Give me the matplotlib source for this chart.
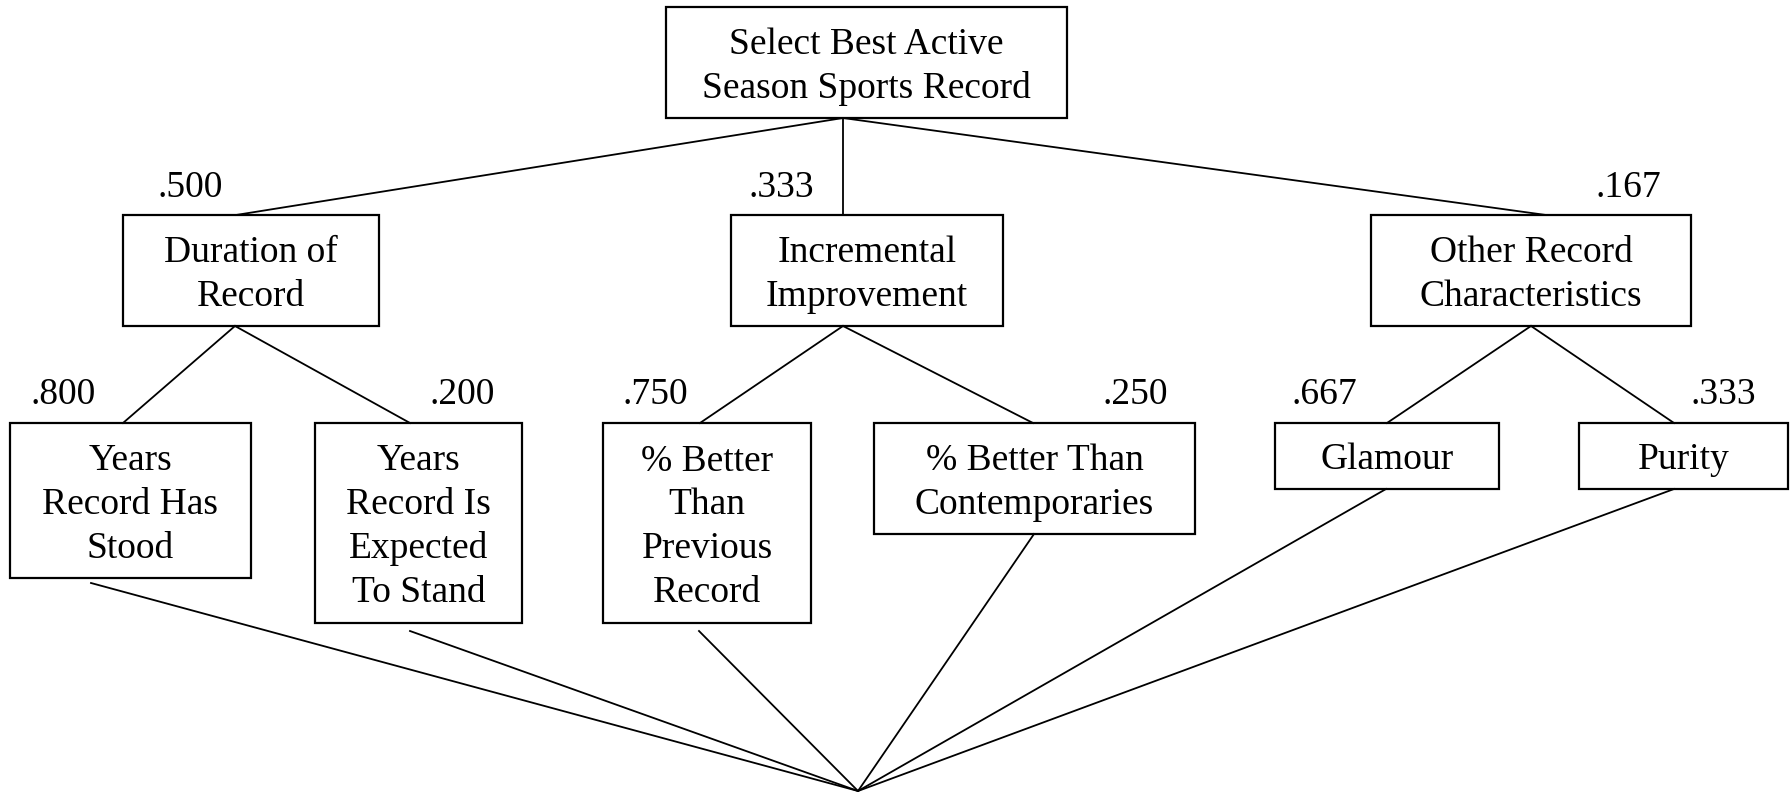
import matplotlib.pyplot as plt
from matplotlib.patches import Rectangle

# tree content
root_label = "Select Best Active\nSeason Sports Record"
criteria = ["Duration of\nRecord", "Incremental\nImprovement", "Other Record\nCharacteristics"]
criteria_weights = [".500", ".333", ".167"]
subcriteria = ["Years\nRecord Has\nStood", "Years\nRecord Is\nExpected\nTo Stand",
               "% Better\nThan\nPrevious\nRecord", "% Better Than\nContemporaries",
               "Glamour", "Purity"]
sub_weights = [".800", ".200", ".750", ".250", ".667", ".333"]
sub_parent = [0, 0, 1, 1, 2, 2]

# layout in pixels (x0, y0, x1, y1), y down
root_box = (666, 7, 1067, 118)
crit_boxes = [(123, 215, 379, 326), (731, 215, 1003, 326), (1371, 215, 1691, 326)]
sub_boxes = [(10, 423, 251, 578), (315, 423, 522, 623), (603, 423, 811, 623),
             (874, 423, 1195, 534), (1275, 423, 1499, 489), (1579, 423, 1788, 489)]
root_out = 843
crit_in = [236, 843, 1546]
crit_out = [235, 843, 1531]
sub_in = [123, 410, 700, 1033, 1387, 1674]
sub_out = [(91, 583), (410, 631), (699, 631), (1034, 534), (1386, 489), (1674, 489)]
sink = (858, 791)
crit_wpos = [(190, 188), (781, 188), (1628, 188)]
sub_wpos = [(63, 395), (462, 395), (655, 395), (1135, 395), (1324, 395), (1723, 395)]

plt.rcParams['font.family'] = ['Liberation Serif', 'DejaVu Serif']
FS = 27

fig = plt.figure(figsize=(17.92, 7.92), dpi=100)
ax = fig.add_axes([0, 0, 1, 1])
ax.set_xlim(0, 1792)
ax.set_ylim(792, 0)
ax.axis('off')


def box(b, label):
    x0, y0, x1, y1 = b
    ax.add_patch(Rectangle((x0, y0), x1 - x0, y1 - y0, fill=False, lw=1.6, ec='black'))
    ax.text((x0 + x1) / 2, (y0 + y1) / 2 + 4, label, ha='center', va='center',
            fontsize=FS, linespacing=1.35, multialignment='center')


box(root_box, root_label)
for i in range(len(criteria)):
    box(crit_boxes[i], criteria[i])
    ax.plot([root_out, crit_in[i]], [root_box[3], crit_boxes[i][1]], color='black', lw=1.3)
    ax.text(crit_wpos[i][0], crit_wpos[i][1], criteria_weights[i], ha='center', va='center', fontsize=FS)

for j in range(len(subcriteria)):
    p = sub_parent[j]
    box(sub_boxes[j], subcriteria[j])
    ax.plot([crit_out[p], sub_in[j]], [crit_boxes[p][3], sub_boxes[j][1]], color='black', lw=1.3)
    ax.text(sub_wpos[j][0], sub_wpos[j][1], sub_weights[j], ha='center', va='center', fontsize=FS)
    ax.plot([sub_out[j][0], sink[0]], [sub_out[j][1], sink[1]], color='black', lw=1.3)

fig.savefig('out.png', dpi=100, facecolor='white')
